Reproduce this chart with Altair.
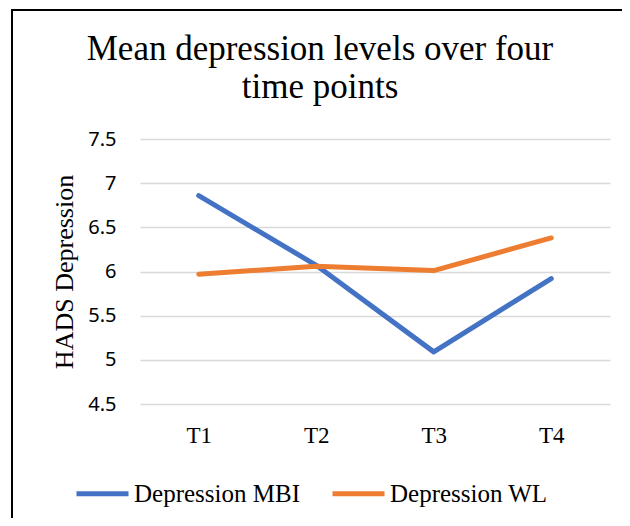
import altair as alt
import pandas as pd

time_points = ["T1", "T2", "T3", "T4"]
mbi_values = [6.86, 6.07, 5.09, 5.92]
wl_values = [5.97, 6.06, 6.01, 6.38]
series_names = ["Depression MBI", "Depression WL"]
series_colors = ["#4472C4", "#ED7D31"]
y_ticks = [4.5, 5, 5.5, 6, 6.5, 7, 7.5]
title_lines = ["Mean depression levels over four", "time points"]

rows = []
for t, v in zip(time_points, mbi_values):
    rows.append({"time": t, "value": v, "series": series_names[0]})
for t, v in zip(time_points, wl_values):
    rows.append({"time": t, "value": v, "series": series_names[1]})
df = pd.DataFrame(rows)

SERIF = "Liberation Serif"

lines = alt.Chart(df).mark_line(strokeWidth=5, strokeCap="round", strokeJoin="round").encode(
    x=alt.X("time:N", sort=time_points, scale=alt.Scale(type="point", padding=0.5),
            axis=alt.Axis(title=None, labelAngle=0, ticks=False, domain=False, grid=False,
                          labelFont=SERIF, labelFontSize=23, labelColor="black", labelPadding=20)),
    y=alt.Y("value:Q", scale=alt.Scale(domain=[4.5, 7.5], nice=False, zero=False),
            axis=alt.Axis(title="HADS Depression", values=y_ticks, format="~g", ticks=False, domain=False,
                          labelFont="Noto Sans", labelFontSize=20, labelColor="black", labelPadding=24,
                          titleFont=SERIF, titleFontSize=26, titleFontWeight="normal", titleColor="black",
                          titlePadding=10, gridColor="#d9d9d9", gridWidth=1.5)),
    color=alt.Color("series:N", sort=series_names,
                    scale=alt.Scale(domain=series_names, range=series_colors),
                    legend=alt.Legend(title=None, orient="none", legendX=-66, legendY=326,
                                      direction="horizontal", symbolType="stroke", symbolSize=2704,
                                      symbolStrokeWidth=5, labelFont=SERIF, labelFontSize=25,
                                      labelColor="black", labelOffset=3, columnPadding=22,
                                      labelLimit=400)),
)

one = pd.DataFrame({"a": [0]})
top_rule = alt.Chart(one).mark_rule(stroke="black", strokeWidth=2).encode(
    x=alt.value(-129), x2=alt.value(490), y=alt.value(-129))
left_rule = alt.Chart(one).mark_rule(stroke="black", strokeWidth=2).encode(
    x=alt.value(-128), y=alt.value(-130), y2=alt.value(400))

title = alt.Chart(one).mark_text(
    text=title_lines, font=SERIF, fontSize=35, color="black", align="center",
    baseline="alphabetic", lineHeight=38
).encode(x=alt.value(180), y=alt.value(-79))

chart = alt.layer(lines, top_rule, left_rule, title).properties(
    width=470, height=265,
    autosize=alt.AutoSizeParams(type="none"),
    padding={"left": 132, "top": 131, "right": 12, "bottom": 114},
    background="white",
).configure_view(stroke=None)

chart.save("out.html", embed_options={"renderer": "svg", "actions": False})
